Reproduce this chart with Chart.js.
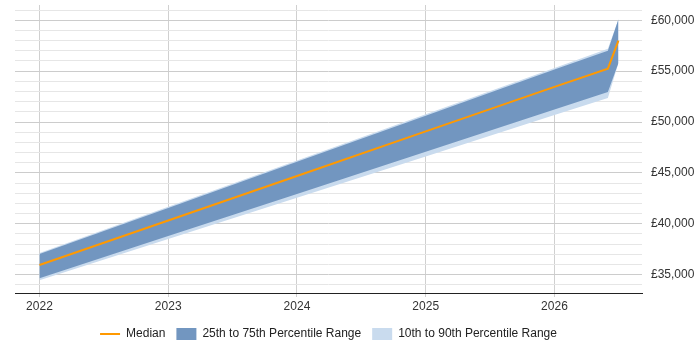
<!DOCTYPE html>
<html>
<head>
<meta charset="utf-8">
<script src="https://cdn.jsdelivr.net/npm/chart.js@4/dist/chart.umd.min.js"></script>
<style>
  html, body { margin: 0; padding: 0; background: #fff; }
  #wrap { width: 700px; height: 350px; }
</style>
</head>
<body>
<div id="wrap"><canvas id="chartSalario"></canvas></div>
<script>
// Datas em anos decimais (2022-01, 2023-01, ..., 2026-06, 2026-07)
const anos = [2022, 2023, 2024, 2025, 2026, 2026.415, 2026.497];
const mediana = [35950, 40330, 44700, 49080, 53450, 55250, 58000];
const p75 = [37030, 41560, 46090, 50620, 55150, 57000, 60100];
const p25 = [34660, 38800, 42940, 47080, 51220, 52950, 55800];
const p90 = [37130, 41680, 46220, 50770, 55310, 57200, 60100];
const p10 = [34460, 38510, 42570, 46620, 50680, 52360, 55800];
const xTicks = [2022, 2023, 2024, 2025, 2026];
const yLabels = [35000, 40000, 45000, 50000, 55000, 60000];

const pts = arr => arr.map((v, i) => ({ x: anos[i], y: v }));
const fonte = { family: '"Liberation Sans", Arial, sans-serif', size: 12 };

// centraliza a legenda sobre a área do gráfico
const centrarLegenda = {
    id: 'centrarLegenda',
    afterLayout(chart) {
        const lg = chart.legend;
        if (!lg) return;
        lg.left = chart.chartArea.left;
        lg.right = chart.chartArea.right;
    },
};

const ctxSalario = document.getElementById('chartSalario').getContext('2d');
const chartSalario = new Chart(ctxSalario, {
    type: 'line',
    data: {
        datasets: [
            {
                label: 'Median',
                data: pts(mediana),
                borderColor: '#ff9900', // laranja
                backgroundColor: '#ff9900',
                borderWidth: 2,
                pointRadius: 0,
                pointStyle: 'line',
                fill: false,
            },
            {
                label: '25th to 75th Percentile Range',
                data: pts(p75),
                borderWidth: 0,
                borderColor: 'rgba(0,0,0,0)',
                backgroundColor: '#7296c0',
                pointRadius: 0,
                pointStyle: 'rect',
                fill: '+1',
            },
            {
                label: 'p25',
                data: pts(p25),
                borderWidth: 0,
                borderColor: 'rgba(0,0,0,0)',
                pointRadius: 0,
                fill: false,
            },
            {
                label: '10th to 90th Percentile Range',
                data: pts(p90),
                borderWidth: 0,
                borderColor: 'rgba(0,0,0,0)',
                backgroundColor: '#c9dbee',
                pointRadius: 0,
                pointStyle: 'rect',
                fill: '+1',
            },
            {
                label: 'p10',
                data: pts(p10),
                borderWidth: 0,
                borderColor: 'rgba(0,0,0,0)',
                pointRadius: 0,
                fill: false,
            },
        ],
    },
    options: {
        responsive: true,
        maintainAspectRatio: false,
        animation: false,
        layout: { padding: { top: 5, left: 15, right: 2, bottom: 0 } },
        scales: {
            x: {
                type: 'linear',
                min: 2021.81,
                max: 2026.68,
                afterBuildTicks: axis => { axis.ticks = xTicks.map(v => ({ value: v })); },
                afterFit: axis => {
                    axis.height = 24;
                    axis.paddingLeft = 0;
                    axis.paddingRight = 0;
                },
                ticks: {
                    color: '#333',
                    font: fonte,
                    padding: 2,
                    maxRotation: 0,
                    callback: v => String(v),
                },
                grid: { color: '#d0d0d0', tickLength: 4 },
                border: { color: '#222', width: 1 },
            },
            y: {
                position: 'right',
                min: 33200,
                max: 61500,
                afterBuildTicks: axis => {
                    const t = [];
                    for (let v = 34000; v <= 61000; v += 1000) t.push({ value: v });
                    axis.ticks = t;
                },
                afterFit: axis => {
                    axis.width = 56;
                    axis.paddingTop = 0;
                    axis.paddingBottom = 0;
                },
                ticks: {
                    color: '#333',
                    font: fonte,
                    padding: 9,
                    autoSkip: false,
                    callback: v => yLabels.includes(v) ? '£' + v.toLocaleString('en-GB') : '',
                },
                grid: {
                    drawTicks: false,
                    color: c => (c.tick && c.tick.value % 5000 === 0) ? '#cccccc' : '#e6e6e6',
                },
                border: { display: false },
            },
        },
        plugins: {
            tooltip: { enabled: false },
            legend: {
                position: 'bottom',
                labels: {
                    usePointStyle: true,
                    pointStyleWidth: 20,
                    boxHeight: 12,
                    color: '#222',
                    font: fonte,
                    padding: 11,
                    filter: item => item.text !== 'p25' && item.text !== 'p10',
                },
            },
        },
    },
    plugins: [centrarLegenda],
});
</script>
</body>
</html>
